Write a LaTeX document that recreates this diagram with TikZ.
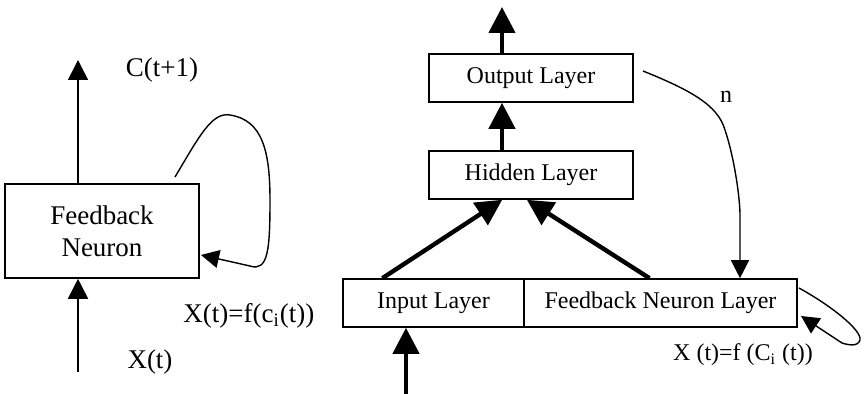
\documentclass[tikz,border=0pt]{standalone}
\usepackage{fontspec}
\setmainfont{Liberation Serif}
\usetikzlibrary{arrows.meta, calc, math}

\tikzset{
 layer/.style={draw, line width=0.8pt, inner sep=0pt, minimum height=24pt},
 bigarrow/.style={line width=2.2pt, -{Triangle[length=13pt,width=13pt]}},
 thinarrow/.style={line width=0.8pt, -{Triangle[length=10pt,width=10pt]}},
 loop/.style={line width=0.7pt, -{Triangle[length=9pt,width=9pt]}},
}
\newcommand{\bigfont}{\fontsize{13.5}{16}\selectfont}
\newcommand{\smallfont}{\fontsize{12}{14}\selectfont}

\begin{document}
\begin{tikzpicture}[x=0.5pt,y=-0.5pt]
\useasboundingbox (0,0) rectangle (864,394);

%single feedback neuron:
 \node[layer, minimum width=97pt, minimum height=47pt, align=center, font=\bigfont]
   (neuron) at (102,231) {Feedback\\Neuron};
 \coordinate (cout) at (78,60);
 \coordinate (xin) at (78,372);
 \draw[thinarrow] (neuron.north -| cout) -- (cout);
 \draw[thinarrow] (xin) -- (xin |- neuron.south);
 \node[font=\bigfont] (clab) at (162,70) {C(t+1)};
 \node[font=\bigfont] (xlab) at (150,362) {X(t)};
 \node[font=\bigfont, anchor=west, inner sep=0pt] (flab) at (183,316) {X(t)=f(c\textsubscript{i}(t))};
 \coordinate (lpa) at (175,177);
 \coordinate (lpb) at (201,255);
 \draw[loop] (lpa) .. controls (200,135) and (212,112) .. (230,115)
   .. controls (262,120) and (270,150) .. (270,200)
   .. controls (270,250) and (268,272) .. (250,266) -- (lpb);

%network:
 \node[layer, minimum width=102pt, font=\smallfont] (out) at (531,78) {Output Layer};
 \node[layer, minimum width=102pt, font=\smallfont] (hid) at (531,175) {Hidden Layer};
 \node[layer, minimum width=90.5pt, font=\smallfont] (inp) at (433.5,303) {Input Layer};
 \node[layer, minimum width=136.5pt, font=\smallfont] (fbl) at (660.5,303) {Feedback Neuron Layer};

 \coordinate (top) at (502,7);
 \coordinate (xbot) at (406,394);
 \draw[bigarrow] (out.north -| top) -- (top);
 \draw[bigarrow] (hid.north -| top) -- (out.south -| top);
 \draw[bigarrow] ($(inp.north west)!0.22!(inp.north east)$) -- ($(hid.south west)!0.36!(hid.south east)$);
 \draw[bigarrow] ($(fbl.north west)!0.46!(fbl.north east)$) -- ($(hid.south west)!0.48!(hid.south east)$);
 \draw[bigarrow] (xbot) -- (xbot |- inp.south);

%feedback from output
 \coordinate (fba) at (643,71);
 \coordinate (fbb) at (740,215);
 \draw[loop] (fba) .. controls (690,90) and (718,105) .. (725,130)
   .. controls (735,160) and (740,200) .. (fbb) -- (fbb |- fbl.north);
 \node[font=\smallfont] (nlab) at (726,97) {n};

%self loop
 \coordinate (rla) at (799,288);
 \coordinate (rlb) at (801,316);
 \draw[loop] (rla) .. controls (830,305) and (862,330) .. (860,340)
   .. controls (858,347) and (848,345) .. (842,343) -- (rlb);
 \node[font=\smallfont] (rlab) at (743,355) {X (t)=f (C\textsubscript{i} (t))};
\end{tikzpicture}
\end{document}
